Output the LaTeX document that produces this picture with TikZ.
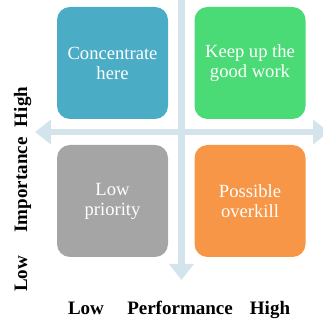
\documentclass[tikz,border=0pt]{standalone}
\usepackage{fontspec}
\setmainfont{Liberation Serif}
\usetikzlibrary{arrows.meta}
\definecolor{qblue}{HTML}{4BACC6}
\definecolor{qgreen}{HTML}{4ADA76}
\definecolor{qgray}{HTML}{A5A5A5}
\definecolor{qorange}{HTML}{F79646}
\definecolor{axiscol}{HTML}{D3E4EC}
\tikzset{
  quad/.style={fill=#1, draw=none, rounded corners=13pt, minimum width=111pt, minimum height=112pt,
    text=white, align=center, font=\fontsize{18.6}{20}\selectfont, inner sep=0pt},
  axis/.style={axiscol, line width=6.5pt, {Triangle[width=24pt,length=16pt]}-{Triangle[width=24pt,length=16pt]}},
  lab/.style={font=\fontsize{19}{21}\selectfont\bfseries, inner sep=0pt, anchor=base},
}
\begin{document}
\begin{tikzpicture}[x=1pt,y=1pt]
\useasboundingbox (0,0) rectangle (323,320);
\coordinate (hl) at (35,188);
\coordinate (hr) at (329,188);
\coordinate (vt) at (181.5,336);
\coordinate (vb) at (181.5,40);
\draw[axis] (hl) -- (hr);
\draw[axis] (vt) -- (vb);
\node[quad=qblue] (tl) at (112.5,257) {Concentrate\\here};
\node[quad=qgreen] (tr) at (250,257) {Keep up the\\good work};
\node[quad=qgray] (bl) at (112.5,119) {Low\\priority};
\node[quad=qorange] (br) at (250,119) {Possible\\overkill};
\node[lab, rotate=90] (yhigh) at (27,213) {High};
\node[lab, rotate=90] (ymid) at (27,135) {Importance};
\node[lab, rotate=90] (ylow) at (27,46) {Low};
\node[lab] (xlow) at (86,5) {Low};
\node[lab] (xmid) at (180,5) {Performance};
\node[lab] (xhigh) at (270,5) {High};
\end{tikzpicture}
\end{document}
